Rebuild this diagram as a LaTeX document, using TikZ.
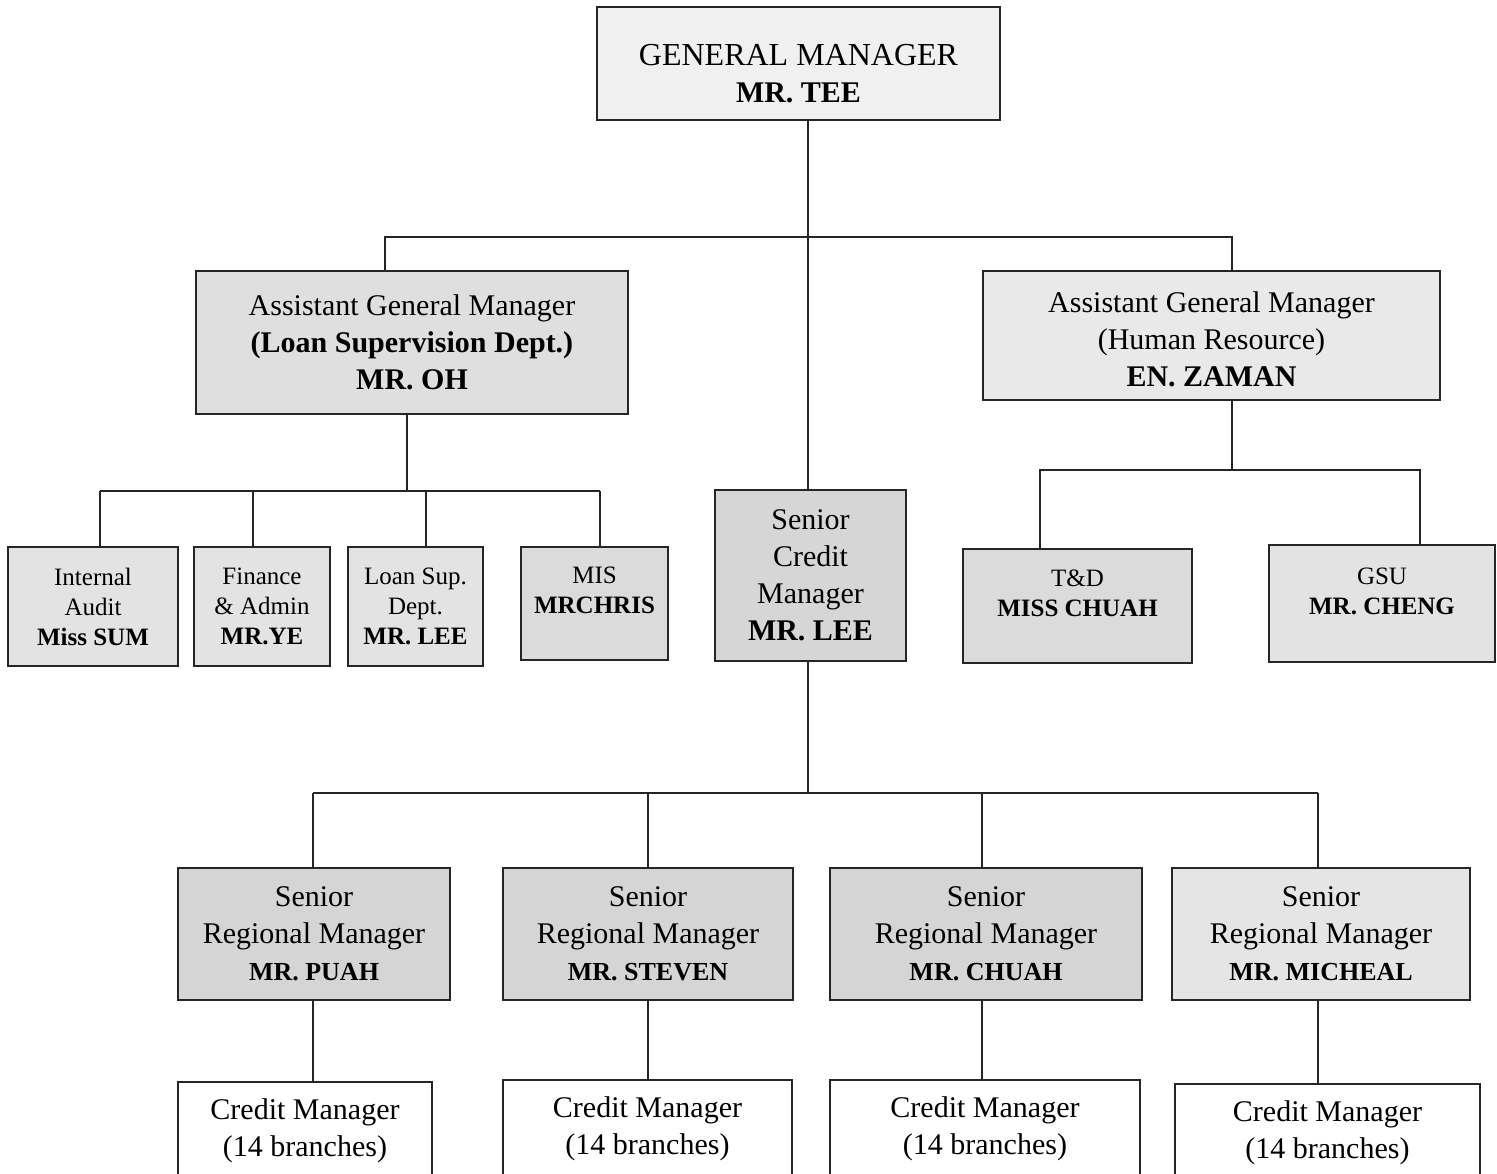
\documentclass[tikz,border=0pt]{standalone}
\usepackage{fontspec}
\setmainfont{Liberation Serif}
\usetikzlibrary{positioning, calc}

\begin{document}
\begin{tikzpicture}[
    x=0.5pt, y=-0.5pt,
    font=\fontsize{15}{18.5}\selectfont,
    % box styles
    unit/.style={
        draw=black!85, line width=1pt, fill=gray!22, align=center, inner sep=2pt
    },
    small_unit/.style={
        unit, font=\fontsize{12.5}{15}\selectfont
    },
    branch/.style={
        draw=black!85, line width=1pt, fill=white, align=center, inner sep=2pt
    },
    link/.style={
        draw=black!85, line width=0.8pt
    }
]
    \path[use as bounding box, clip] (0,0) rectangle (1497,1173);

    % --- 1. TOP MANAGEMENT ---
    \node[unit, fill=gray!12, minimum width=201.5pt, minimum height=56.5pt] (gm) at (798.5,63.5) {
        \rule{0pt}{21pt}{\fontsize{16}{18.5}\selectfont GENERAL MANAGER}\\
        \textbf{MR. TEE}
    };

    \node[unit, fill=gray!25, minimum width=216pt, minimum height=71.5pt] (agm_loan) at (412,342.5) {
        Assistant General Manager\\
        \textbf{(Loan Supervision Dept.)}\\
        \textbf{MR. OH}
    };
    \node[unit, fill=gray!17, minimum width=228.5pt, minimum height=64.5pt] (agm_hr) at (1211.5,335.5) {
        \rule{0pt}{14pt}Assistant General Manager\\
        (Human Resource)\\
        \textbf{EN. ZAMAN}
    };
    \node[unit, fill=gray!32, minimum width=95.5pt, minimum height=85.5pt] (scm) at (810.5,575.5) {
        Senior\\
        Credit\\
        Manager\\
        \textbf{MR. LEE}
    };

    % --- 2. LOAN SUPERVISION UNITS ---
    \node[small_unit, minimum width=85pt, minimum height=59.5pt] (audit) at (93,606.5) {
        Internal\\
        Audit\\
        \textbf{Miss SUM}
    };
    \node[small_unit, minimum width=68pt, minimum height=59.5pt] (finance) at (262,606.5) {
        Finance\\
        \& Admin\\
        \textbf{MR.YE}
    };
    \node[small_unit, minimum width=67.5pt, minimum height=59.5pt] (loansup) at (415.5,606.5) {
        Loan Sup.\\
        Dept.\\
        \textbf{MR. LEE}
    };
    \node[small_unit, fill=gray!28, minimum width=73.5pt, minimum height=56.5pt] (mis) at (594.5,603.5) {
        MIS\\
        \textbf{MRCHRIS}\rule[-13pt]{0pt}{0pt}
    };

    % --- 3. HUMAN RESOURCE UNITS ---
    \node[small_unit, fill=gray!28, minimum width=114.5pt, minimum height=57pt] (td) at (1077.5,606) {
        T\&D\\
        \textbf{MISS CHUAH}\rule[-13pt]{0pt}{0pt}
    };
    \node[small_unit, minimum width=113pt, minimum height=58.5pt] (gsu) at (1382,603.5) {
        GSU\\
        \textbf{MR. CHENG}\rule[-12pt]{0pt}{0pt}
    };

    % --- 4. REGIONAL MANAGERS ---
    \node[unit, fill=gray!33, minimum width=136pt, minimum height=66pt] (srm1) at (314,934) {
        Senior\\
        Regional Manager\\
        {\fontsize{13}{16}\selectfont\textbf{MR. PUAH}}
    };
    \node[unit, fill=gray!33, minimum width=145pt, minimum height=66pt] (srm2) at (648,934) {
        Senior\\
        Regional Manager\\
        {\fontsize{13}{16}\selectfont\textbf{MR. STEVEN}}
    };
    \node[unit, fill=gray!33, minimum width=156pt, minimum height=66pt] (srm3) at (986,934) {
        Senior\\
        Regional Manager\\
        {\fontsize{13}{16}\selectfont\textbf{MR. CHUAH}}
    };
    \node[unit, fill=gray!20, minimum width=149pt, minimum height=66pt] (srm4) at (1321,934) {
        Senior\\
        Regional Manager\\
        {\fontsize{13}{16}\selectfont\textbf{MR. MICHEAL}}
    };

    % Credit managers (cut off at the bottom)
    \node[branch, minimum width=127pt, minimum height=49pt] (cm1) at (305,1131) {Credit Manager\\(14 branches)};
    \node[branch, minimum width=144.5pt, minimum height=49pt] (cm2) at (647.5,1129) {Credit Manager\\(14 branches)};
    \node[branch, minimum width=155pt, minimum height=49pt] (cm3) at (985,1129) {Credit Manager\\(14 branches)};
    \node[branch, minimum width=152.5pt, minimum height=49pt] (cm4) at (1327.5,1133) {Credit Manager\\(14 branches)};

    % --- 5. CONNECTORS ---
    \coordinate (top_mid) at (808,237);
    \coordinate (top_left) at (385,237);
    \coordinate (top_right) at (1232,237);
    \draw[link] (gm.south -| top_mid) -- (top_mid);
    \draw[link] (agm_loan.north -| top_left) -- (top_left) -- (top_right) -- (agm_hr.north -| top_right);
    \draw[link] (top_mid) -- (scm.north -| top_mid);

    % loan supervision tree
    \coordinate (loan_bus) at (407,491);
    \draw[link] (agm_loan.south -| loan_bus) -- (loan_bus);
    \foreach \unitname/\dropx in {audit/100, finance/253, loansup/426, mis/600} {
        \coordinate (drop_\unitname) at (\dropx,491);
        \draw[link] (drop_\unitname) -- (\unitname.north -| drop_\unitname);
    }
    \draw[link] (drop_audit) -- (drop_mis);

    % human resource tree
    \coordinate (hr_bus) at (1232,470);
    \coordinate (drop_td) at (1040,470);
    \coordinate (drop_gsu) at (1420,470);
    \draw[link] (agm_hr.south -| hr_bus) -- (hr_bus);
    \draw[link] (td.north -| drop_td) -- (drop_td) -- (drop_gsu) -- (gsu.north -| drop_gsu);

    % credit tree
    \coordinate (credit_bus) at (808,793);
    \draw[link] (scm.south -| credit_bus) -- (credit_bus);
    \foreach \i/\dropx in {1/313, 2/648, 3/982, 4/1318} {
        \coordinate (drop_srm\i) at (\dropx,793);
        \draw[link] (drop_srm\i) -- (srm\i.north -| drop_srm\i);
        \draw[link] (srm\i.south -| drop_srm\i) -- (cm\i.north -| drop_srm\i);
    }
    \draw[link] (drop_srm1) -- (drop_srm4);

\end{tikzpicture}
\end{document}
